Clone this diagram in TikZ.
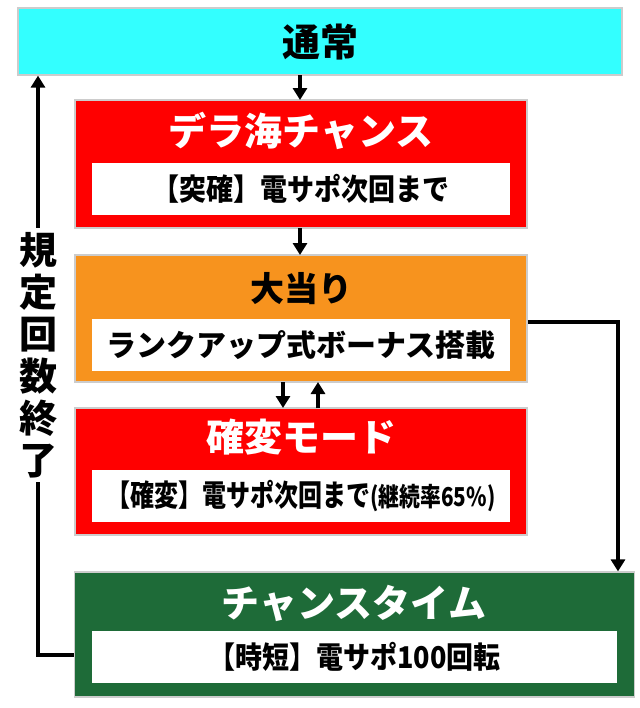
\documentclass[tikz,border=0pt]{standalone}
\usepackage{fontspec}
\setmainfont{Noto Sans CJK JP}
\usetikzlibrary{arrows.meta}
\definecolor{tsujo}{HTML}{33FFFF}
\definecolor{akared}{HTML}{FF0000}
\definecolor{daidai}{HTML}{F7931E}
\definecolor{midori}{HTML}{1E6B38}
\tikzset{
  panel/.style={draw=black!20, line width=0.6pt, inner sep=0pt},
  inbox/.style={fill=white, inner sep=0pt, minimum width=209pt, minimum height=26pt, font=\bfseries\fontsize{15}{15}\selectfont},
  title/.style={font=\bfseries\fontsize{19}{19}\selectfont},
  arr/.style={-{Triangle[length=6pt,width=7pt]}, line width=2pt}
}
\begin{document}
\begin{tikzpicture}[x=0.5pt, y=-0.5pt]
  \useasboundingbox (0,0) rectangle (640,708);
  % boxes
  \node[panel, fill=tsujo, minimum width=302pt, minimum height=33.5pt] at (320,41.5) (tsujo) {};
  \node[title] at (320,42) {通常};

  \node[panel, fill=akared, minimum width=226pt, minimum height=64pt] at (301,164) (dera) {};
  \node[title, text=white] at (301,131) {デラ海チャンス};
  \node[inbox] at (301,189) (dera_in) {\scalebox{0.9}[1]{【突確】電サポ次回まで}};

  \node[panel, fill=daidai, minimum width=226pt, minimum height=63.5pt] at (301,318.5) (atari) {};
  \node[title, font=\bfseries\fontsize{17}{17}\selectfont] at (301,289) {大当り};
  \node[inbox] at (301,345) (atari_in) {ランクアップ式ボーナス搭載};

  \node[panel, fill=akared, minimum width=226pt, minimum height=63.5pt] at (301,471.5) (kakuhen) {};
  \node[title, text=white] at (301,437) {確変モード};
  \node[inbox] at (301,496) (kakuhen_in) {\scalebox{0.8}[1]{【確変】電サポ次回まで{\fontsize{13}{13}\selectfont(継続率65\%)}}};

  \node[panel, fill=midori, minimum width=280pt, minimum height=62.5pt] at (354.5,634.5) (chance) {};
  \node[title, text=white] at (354,603) {チャンスタイム};
  \node[inbox, minimum width=262.5pt] at (354.5,656.5) (chance_in) {\scalebox{0.9}[1]{【時短】電サポ100回転}};

  % connectors
  \coordinate (p1) at (618,322);
  \coordinate (p2) at (38,655);
  \draw[arr] (300,75) -- (300,100);
  \draw[arr] (300,228) -- (300,255);
  \draw[arr] (283,382) -- (283,408);
  \draw[arr] (318,408) -- (318,382);
  \draw[arr] (atari.east |- p1) -- (p1) -- (p1 |- chance.north);
  \draw[arr] (chance.west |- p2) -- (p2) -- (p2 |- tsujo.south);
  \node[fill=white, inner sep=2pt, align=center, font=\bfseries\fontsize{19}{21}\selectfont] at (38,355) (kitei) {規\\定\\回\\数\\終\\了};
\end{tikzpicture}
\end{document}
